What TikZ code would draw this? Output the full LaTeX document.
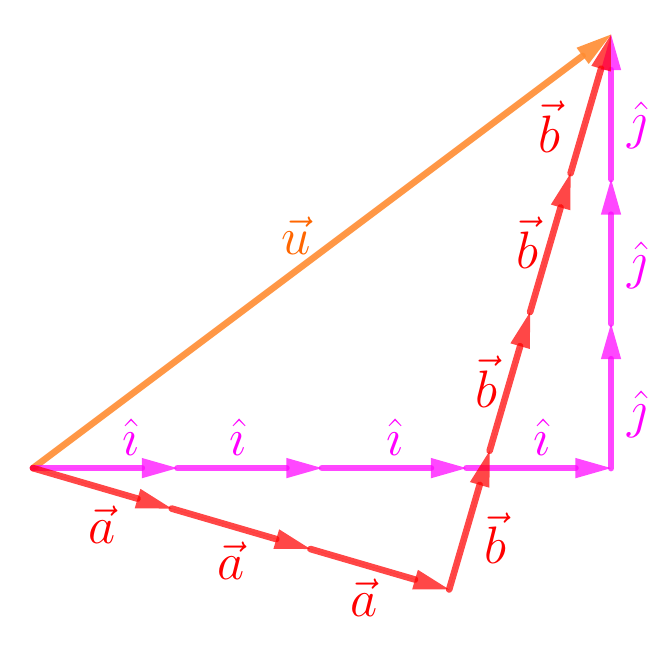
\documentclass[tikz,border=0pt]{standalone}
\usepackage{amsmath,amssymb}
\usepackage{tikz}
\usetikzlibrary{arrows.meta}
\definecolor{imag}{RGB}{255,0,255}
\definecolor{ared}{RGB}{255,0,0}
\definecolor{uline}{RGB}{255,140,50}
\definecolor{utext}{RGB}{255,102,0}

\begin{document}
\begin{tikzpicture}[x=2cm,y=2cm,
  vec/.style={line width=2.6pt,line cap=round,opacity=0.72,-{Triangle[length=14pt,width=8pt,line width=0pt]}},
  ivec/.style={vec,draw=imag,fill=imag},
  avec/.style={vec,draw=ared,fill=ared},
  uvec/.style={vec,draw=uline,fill=uline,opacity=0.9},
  lab/.style={font=\huge,opacity=1,inner sep=0pt,pos=.5}]
  \useasboundingbox (-0.228,-1.336) rectangle (4.415,3.239);
  % points
  \coordinate (O) at (0,0);
  \coordinate (i1) at (1,0);
  \coordinate (i2) at (2,0);
  \coordinate (i3) at (3,0);
  \coordinate (i4) at (4,0);
  \coordinate (j1) at (4,1);
  \coordinate (j2) at (4,2);
  \coordinate (j3) at (4,3);
  \coordinate (a1) at (0.96,-0.28);
  \coordinate (a2) at (1.92,-0.56);
  \coordinate (a3) at (2.88,-0.84);
  \coordinate (b1) at (3.16,0.12);
  \coordinate (b2) at (3.44,1.08);
  \coordinate (b3) at (3.72,2.04);
  \coordinate (b4) at (4,3);
  % u = 3a + 4b = 4i + 3j
  \draw[uvec] (O) -- (b4) node[lab,text=utext,xshift=-0.36cm,yshift=0.22cm] (lu) {$\vec{u}$};
  % i and j
  \draw[ivec] (O) -- (i1) node[lab,text=imag,xshift=0.35cm,yshift=0.43cm] (li1) {$\hat{\imath}$};
  \draw[ivec] (i1) -- (i2) node[lab,text=imag,xshift=-0.16cm,yshift=0.43cm] (li2) {$\hat{\imath}$};
  \draw[ivec] (i2) -- (i3) node[lab,text=imag,yshift=0.43cm] (li3) {$\hat{\imath}$};
  \draw[ivec] (i3) -- (i4) node[lab,text=imag,xshift=0.04cm,yshift=0.43cm] (li4) {$\hat{\imath}$};
  \draw[ivec] (i4) -- (j1) node[lab,text=imag,xshift=0.36cm,yshift=-0.26cm] (lj1) {$\hat{\jmath}$};
  \draw[ivec] (j1) -- (j2) node[lab,text=imag,xshift=0.36cm,yshift=-0.2cm] (lj2) {$\hat{\jmath}$};
  \draw[ivec] (j2) -- (j3) node[lab,text=imag,xshift=0.36cm,yshift=-0.26cm] (lj3) {$\hat{\jmath}$};
  % a and b
  \draw[avec] (O) -- (a1) node[lab,text=ared,yshift=-0.51cm] (la1) {$\vec{a}$};
  \draw[avec] (a1) -- (a2) node[lab,text=ared,xshift=-0.14cm,yshift=-0.44cm] (la2) {$\vec{a}$};
  \draw[avec] (a2) -- (a3) node[lab,text=ared,xshift=-0.22cm,yshift=-0.39cm] (la3) {$\vec{a}$};
  \draw[avec] (a3) -- (b1) node[lab,text=ared,xshift=0.36cm,yshift=-0.25cm] (lb1) {$\vec{b}$};
  \draw[avec] (b1) -- (b2) node[lab,text=ared,xshift=-0.32cm] (lb2) {$\vec{b}$};
  \draw[avec] (b2) -- (b3) node[lab,text=ared,xshift=-0.32cm] (lb3) {$\vec{b}$};
  \draw[avec] (b3) -- (b4) node[lab,text=ared,xshift=-0.57cm,yshift=-0.32cm] (lb4) {$\vec{b}$};
\end{tikzpicture}
\end{document}
